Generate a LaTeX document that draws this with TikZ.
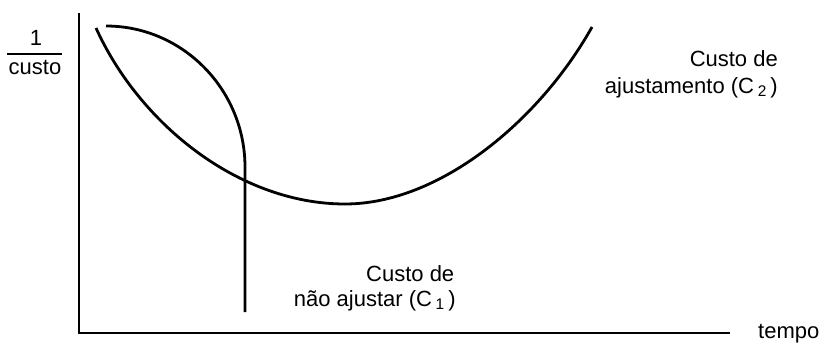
\documentclass[tikz,border=0pt]{standalone}
\usepackage{fontspec}
\setmainfont{Liberation Sans}
\begin{document}
\begin{tikzpicture}[x=1pt,y=-1pt,
  lbl/.style={font=\fontsize{22}{27}\selectfont, inner sep=0pt},
  axisline/.style={line width=2.2pt},
  curveline/.style={line width=2.8pt, line join=round}]
\useasboundingbox (0,0) rectangle (827,343);
% axes
\coordinate (ytop) at (79,13);
\coordinate (orig) at (79,333);
\coordinate (xend) at (730,333);
\draw[axisline] (ytop) -- (orig) -- (xend);
% y label
\node[lbl, anchor=base] (one) at (36,45) {1};
\node[lbl, anchor=base] (custo) at (35,74) {custo};
\coordinate (fl) at (7,54);
\coordinate (fr) at (62,54);
\draw[line width=1.8pt] (fl) -- (fr);
% x label
\node[lbl, anchor=base west] (tempo) at (758,338) {tempo};
% C1 curve
\coordinate (c1s) at (106,26);
\coordinate (c1m) at (245,167);
\coordinate (c1e) at (245,312);
\draw[curveline] (c1s) .. controls (183,26) and (245,90) .. (c1m) -- (c1e);
% C2 curve
\coordinate (c2s) at (96,28);
\coordinate (c2m) at (345,204);
\coordinate (c2e) at (592,27);
\draw[curveline] (c2s) .. controls (140,125) and (240,204) .. (c2m)
  .. controls (440,204) and (540,120) .. (c2e);
% labels
\node[lbl, anchor=base east] (c2a) at (778,66) {Custo de};
\node[lbl, anchor=base east] (c2b) at (778,93) {ajustamento (C\,\textsubscript{2}\,)};
\node[lbl, anchor=base west] (c1a) at (366,281) {Custo de};
\node[lbl, anchor=base east] (c1b) at (456,306) {não ajustar (C\,\textsubscript{1}\,)};
\end{tikzpicture}
\end{document}
